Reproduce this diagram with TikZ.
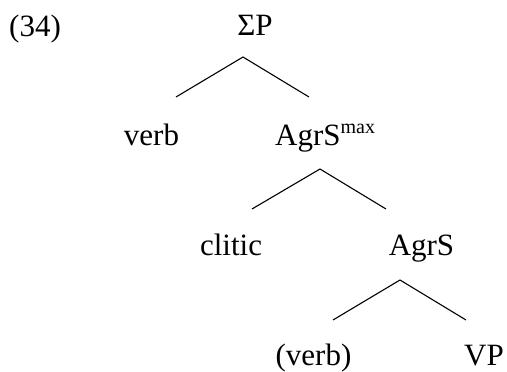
\documentclass[tikz,border=0pt]{standalone}
\usepackage{fontspec}
\setmainfont{Liberation Serif}
\begin{document}
\begin{tikzpicture}[x=1pt,y=-1pt,
  lbl/.style={inner sep=0pt,anchor=base,font=\fontsize{31}{34}\selectfont},
  branch/.style={line width=1.1pt}]
\useasboundingbox (0,0) rectangle (507,372);
\node[lbl,anchor=base west] (ex) at (9,36) {(34)};
\node[lbl] (sp) at (255,35) {ΣP};
\node[lbl] (verb) at (151.5,145) {verb};
\node[lbl,anchor=base west] (agrmax) at (275,145) {AgrS\raisebox{12pt}{\fontsize{20}{20}\selectfont max}};
\node[lbl] (clitic) at (231,255) {clitic};
\node[lbl] (agrs) at (421.5,255) {AgrS};
\node[lbl] (pverb) at (313.5,365) {(verb)};
\node[lbl] (vp) at (484,365) {VP};
\coordinate (t1) at (243,57);
\coordinate (l1) at (176,97);
\coordinate (r1) at (309,97);
\coordinate (t2) at (320,169);
\coordinate (l2) at (252,209);
\coordinate (r2) at (386,209);
\coordinate (t3) at (400,280);
\coordinate (l3) at (333,320);
\coordinate (r3) at (466,320);
\draw[branch] (l1) -- (t1) -- (r1);
\draw[branch] (l2) -- (t2) -- (r2);
\draw[branch] (l3) -- (t3) -- (r3);
\end{tikzpicture}
\end{document}
